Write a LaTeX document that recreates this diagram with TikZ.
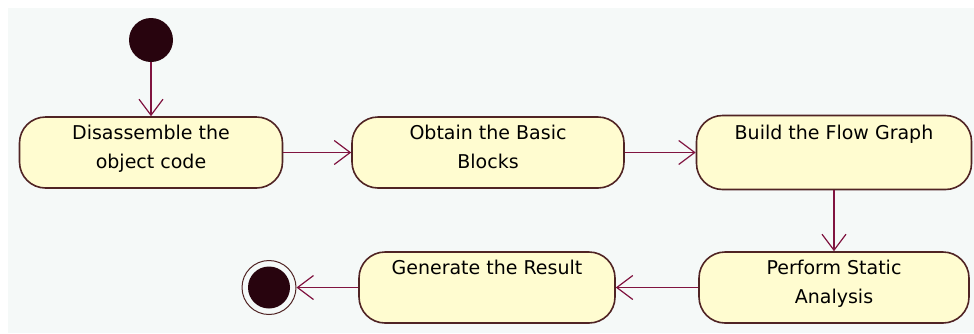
\documentclass[tikz,border=0pt]{standalone}
\usepackage{fontspec}
\setmainfont{DejaVu Sans}
\usetikzlibrary{arrows.meta}

\definecolor{actfill}{RGB}{255,252,208}
\definecolor{actline}{RGB}{80,36,36}
\definecolor{flowline}{RGB}{128,20,64}
\definecolor{dotfill}{RGB}{40,4,14}
\definecolor{backgr}{RGB}{245,249,248}

\begin{document}
\begin{tikzpicture}[x=1pt,y=-1pt,
 activity/.style={draw=actline,fill=actfill,line width=1.6pt,rounded corners=26pt,
  inner sep=0pt,align=center,font=\fontsize{19}{29}\selectfont,
  execute at end node={\rule[-12pt]{0pt}{12pt}}},
 flow/.style={draw=flowline,line width=1.8pt,
  -{Straight Barb[length=16pt,width=24pt,line width=1.2pt]}}]
 \fill[white] (0,0) rectangle (974,333);
 \fill[backgr] (8,8) rectangle (974,333);
 \useasboundingbox (0,0) rectangle (974,333);

 \node [circle,fill=dotfill,inner sep=0pt,minimum size=44pt] (start) at (151,40) {};
 \node [activity,minimum width=263pt,minimum height=71pt] (disasm) at (151,152.5) {Disassemble the\\object code};
 \node [activity,minimum width=272pt,minimum height=71pt] (blocks) at (488,152.5) {Obtain the Basic\\Blocks};
 \node [activity,minimum width=275pt,minimum height=74pt] (flowgraph) at (834,152.5) {Build the Flow Graph\\~};
 \node [activity,minimum width=270pt,minimum height=71pt] (static) at (834,287.5) {Perform Static\\Analysis};
 \node [activity,minimum width=256pt,minimum height=71pt] (result) at (487,287.5) {Generate the Result\\~};
 \node [circle,draw=actline,line width=1pt,inner sep=0pt,minimum size=54pt] (stop) at (269,287.5) {};
 \node [circle,fill=dotfill,inner sep=0pt,minimum size=42pt] (stopdot) at (stop) {};

 \draw[flow] (start) -- (disasm);
 \draw[flow] (disasm) -- (blocks);
 \draw[flow] (blocks) -- (flowgraph);
 \draw[flow] (flowgraph) -- (static);
 \draw[flow] (static) -- (result);
 \draw[flow] (result) -- (stop);
\end{tikzpicture}
\end{document}
